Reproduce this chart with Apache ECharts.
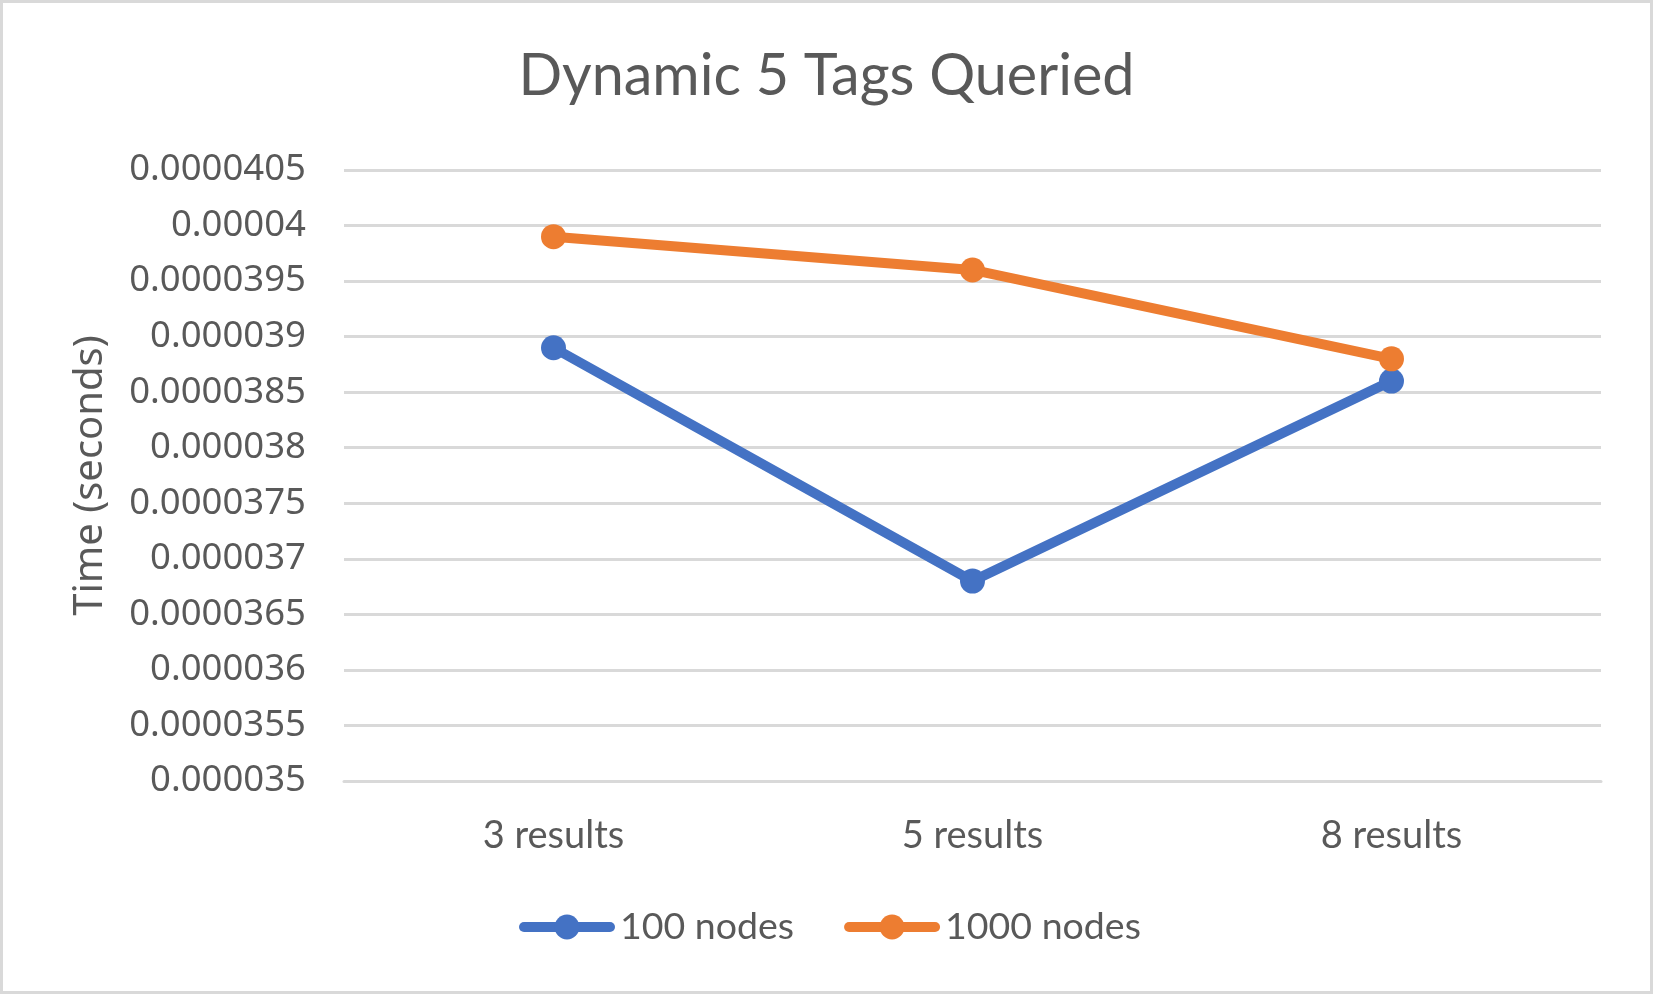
<!DOCTYPE html>
<html>
<head>
<meta charset="utf-8">
<script src="https://cdn.jsdelivr.net/npm/echarts@6/dist/echarts.min.js"></script>
<style>
html,body{margin:0;padding:0;background:#fff;}
#chart{width:1653px;height:994px;}
</style>
</head>
<body>
<div id="chart"></div>
<script>
const categories = ['3 results', '5 results', '8 results'];
const series100 = [0.0000389, 0.0000368, 0.0000386];
const series1000 = [0.0000399, 0.0000396, 0.0000388];
const yTickLabels = ['0.000035','0.0000355','0.000036','0.0000365','0.000037','0.0000375','0.000038','0.0000385','0.000039','0.0000395','0.00004','0.0000405'];
const yMin = 0.000035, yMax = 0.0000405, yInterval = 0.0000005;

const chart = echarts.init(document.getElementById('chart'));
const textColor = '#595959';
chart.setOption({
  backgroundColor: '#ffffff',
  animation: false,
  graphic: [{
    type: 'rect', z: -10, silent: true,
    shape: {x: 1.5, y: 1.5, width: 1650, height: 991},
    style: {fill: 'none', stroke: '#d9d9d9', lineWidth: 3}
  }],
  title: {
    text: 'Dynamic 5 Tags Queried',
    left: 'center', top: 42,
    textStyle: {fontFamily: 'Lato', fontSize: 57.5, fontWeight: 'normal', color: textColor}
  },
  legend: {
    top: 903, left: 514,
    itemWidth: 86, itemHeight: 31, itemGap: 50,
    lineStyle: {width: 10, cap: 'round'},
    textStyle: {fontFamily: 'Lato', fontSize: 37.5, color: textColor, padding: [0,0,0,5]},
    data: ['100 nodes', '1000 nodes']
  },
  grid: {left: 344, right: 52, top: 170, bottom: 213, containLabel: false},
  xAxis: {
    type: 'category', data: categories, boundaryGap: true,
    axisLine: {show: true, lineStyle: {color: '#d9d9d9', width: 3}},
    axisTick: {show: false},
    axisLabel: {margin: 36, fontFamily: 'Lato', fontSize: 38, color: textColor}
  },
  yAxis: {
    type: 'value', min: yMin, max: yMax, interval: yInterval,
    name: 'Time (seconds)', nameLocation: 'middle', nameRotate: 90, nameGap: 233,
    nameTextStyle: {fontFamily: 'Noto Sans', fontSize: 40, color: textColor},
    axisLine: {show: false}, axisTick: {show: false},
    splitLine: {lineStyle: {color: '#d9d9d9', width: 3}},
    axisLabel: {
      margin: 38, fontFamily: 'Noto Sans', fontSize: 36.5, color: textColor,
      formatter: v => yTickLabels[Math.round((v - yMin) / yInterval)]
    }
  },
  series: [
    {
      name: '100 nodes', type: 'line', data: series100,
      symbol: 'circle', symbolSize: 25,
      lineStyle: {width: 10, color: '#4472c4', cap: 'round'},
      itemStyle: {color: '#4472c4'}
    },
    {
      name: '1000 nodes', type: 'line', data: series1000,
      symbol: 'circle', symbolSize: 25,
      lineStyle: {width: 10, color: '#ed7d31', cap: 'round'},
      itemStyle: {color: '#ed7d31'}
    }
  ]
});
</script>
</body>
</html>
